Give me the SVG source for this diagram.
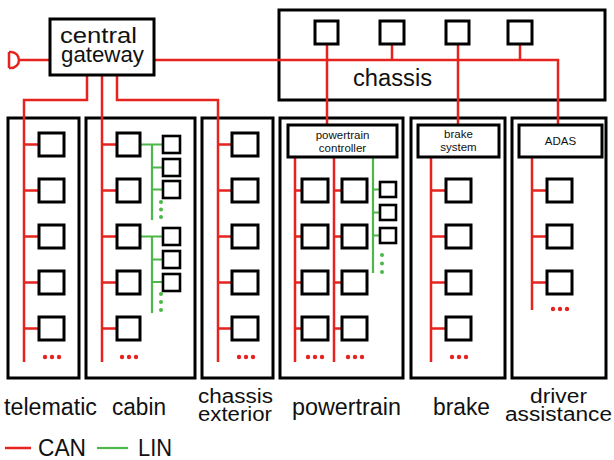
<svg xmlns="http://www.w3.org/2000/svg" width="614" height="460" viewBox="0 0 614 460">
<style>
.box{fill:#fff;stroke:#000;stroke-width:3}
.ecu{fill:#fff;stroke:#000;stroke-width:3}
.lecu{fill:#fff;stroke:#000;stroke-width:2.6}
.can{fill:none;stroke:#e5231f;stroke-width:2.5}
.lin{fill:none;stroke:#4cb849;stroke-width:2.2}
.rd{fill:#e5231f}
.gd{fill:#4cb849}
text{font-family:"Liberation Sans",Arial,Helvetica,sans-serif;fill:#111}
.big{font-size:23px}
.two{font-size:20px}
.sm{font-size:11.5px;text-anchor:middle}
</style>
<rect width="614" height="460" fill="#fff"/>

<!-- domain boxes -->
<g id="chassis">
  <rect class="box" x="279" y="10" width="326" height="90"/>
  <text class="big" x="353" y="86" textLength="79" lengthAdjust="spacingAndGlyphs">chassis</text>
</g>
<g id="telematic">
  <rect class="box" x="8" y="118" width="71" height="260"/>
</g>
<g id="cabin">
  <rect class="box" x="86" y="118" width="109" height="260"/>
</g>
<g id="chassis-exterior">
  <rect class="box" x="202" y="118" width="71" height="260"/>
</g>
<g id="powertrain">
  <rect class="box" x="280" y="118" width="123" height="260"/>
</g>
<g id="brake">
  <rect class="box" x="411" y="118" width="94" height="260"/>
</g>
<g id="driver-assistance">
  <rect class="box" x="512" y="118" width="94" height="260"/>
</g>

<!-- connectors -->
<g id="connectors">
  <path class="can" d="M9,52 V68 M9,52 H11 A8,8 0 0 1 11,68 H9 M19,60 H50"/>
  <path class="can" d="M154,60 H558 V125 M327,44 V125 M392,44 V60 M458,44 V125 M520,44 V60"/>
  <path class="can" d="M87,75 V100 H24 V362 M102,75 V362 M117,75 V100 H218 V362"/>
  <path class="can" d="M24,144.5 H39 M24,190.5 H39 M24,236.5 H39 M24,282.5 H39 M24,328.5 H39"/>
  <path class="can" d="M102,144.5 H117 M102,190.5 H117 M102,236.5 H117 M102,282.5 H117 M102,328.5 H117"/>
  <path class="can" d="M218,144.5 H232 M218,190.5 H232 M218,236.5 H232 M218,282.5 H232 M218,328.5 H232"/>
  <path class="can" d="M295,157 V362 M334,157 V362 M295,190.5 H302 M295,236.5 H302 M295,282.5 H302 M295,328.5 H302 M334,190.5 H342 M334,236.5 H342 M334,282.5 H342 M334,328.5 H342"/>
  <path class="can" d="M431,157 V362 M431,190.5 H446 M431,236.5 H446 M431,282.5 H446 M431,328.5 H446"/>
  <path class="can" d="M532,157 V310 M532,190.5 H547 M532,236.5 H547 M532,282.5 H547"/>
  <path class="lin" d="M140,144.5 H163 M152,144.5 V220 M152,167.5 H163 M152,189.5 H163"/>
  <path class="lin" d="M140,236.5 H163 M152,236.5 V313 M152,259.5 H163 M152,282 H163"/>
  <path class="lin" d="M373,157 V273 M373,189.5 H380 M373,212.5 H380 M373,235.5 H380"/>
</g>

<g id="central-gateway">
  <rect class="box" x="50" y="19" width="104" height="56" stroke-width="3.5"/>
  <text class="big" x="60" y="43" textLength="77" lengthAdjust="spacingAndGlyphs" style="font-size:22px">central</text>
  <text class="big" x="61" y="62" textLength="83" lengthAdjust="spacingAndGlyphs" style="font-size:22px">gateway</text>
</g>

<g id="chassis-ecus">
  <rect class="ecu" x="315" y="21" width="23" height="23"/>
  <rect class="ecu" x="380" y="21" width="24" height="23"/>
  <rect class="ecu" x="446" y="21" width="23" height="23"/>
  <rect class="ecu" x="508" y="21" width="24" height="23"/>
</g>

<g id="telematic-ecus">
  <rect class="ecu" x="39" y="133" width="25" height="23"/>
  <rect class="ecu" x="39" y="179" width="25" height="23"/>
  <rect class="ecu" x="39" y="225" width="25" height="23"/>
  <rect class="ecu" x="39" y="271" width="25" height="23"/>
  <rect class="ecu" x="39" y="317" width="25" height="23"/>
  <circle class="rd" cx="45" cy="357" r="2.2"/><circle class="rd" cx="52" cy="357" r="2.2"/><circle class="rd" cx="59" cy="357" r="2.2"/>
</g>

<g id="cabin-ecus">
  <rect class="ecu" x="117" y="133" width="23" height="23"/>
  <rect class="ecu" x="117" y="179" width="23" height="23"/>
  <rect class="ecu" x="117" y="225" width="23" height="23"/>
  <rect class="ecu" x="117" y="271" width="23" height="23"/>
  <rect class="ecu" x="117" y="317" width="23" height="23"/>
  <circle class="rd" cx="122" cy="357" r="2.2"/><circle class="rd" cx="129" cy="357" r="2.2"/><circle class="rd" cx="136" cy="357" r="2.2"/>
  <rect class="lecu" x="163" y="136" width="17" height="17"/>
  <rect class="lecu" x="163" y="159" width="17" height="17"/>
  <rect class="lecu" x="163" y="181" width="17" height="17"/>
  <circle class="gd" cx="161" cy="202" r="2"/><circle class="gd" cx="161" cy="209.5" r="2"/><circle class="gd" cx="161" cy="217" r="2"/>
  <rect class="lecu" x="163" y="228" width="17" height="17"/>
  <rect class="lecu" x="163" y="251" width="17" height="17"/>
  <rect class="lecu" x="163" y="274" width="17" height="17"/>
  <circle class="gd" cx="161" cy="294" r="2"/><circle class="gd" cx="161" cy="302" r="2"/><circle class="gd" cx="161" cy="310" r="2"/>
</g>

<g id="chassis-exterior-ecus">
  <rect class="ecu" x="232" y="133" width="26" height="23"/>
  <rect class="ecu" x="232" y="179" width="26" height="23"/>
  <rect class="ecu" x="232" y="225" width="26" height="23"/>
  <rect class="ecu" x="232" y="271" width="26" height="23"/>
  <rect class="ecu" x="232" y="317" width="26" height="23"/>
  <circle class="rd" cx="239" cy="357" r="2.2"/><circle class="rd" cx="246" cy="357" r="2.2"/><circle class="rd" cx="253" cy="357" r="2.2"/>
</g>

<g id="powertrain-controller">
  <rect class="box" x="288" y="125" width="109" height="32"/>
  <text class="sm" x="342.5" y="138.5">powertrain</text>
  <text class="sm" x="342.5" y="152">controller</text>
</g>
<g id="powertrain-ecus">
  <rect class="ecu" x="302" y="179" width="26" height="23"/>
  <rect class="ecu" x="302" y="225" width="26" height="23"/>
  <rect class="ecu" x="302" y="271" width="26" height="23"/>
  <rect class="ecu" x="302" y="317" width="26" height="23"/>
  <rect class="ecu" x="342" y="179" width="25" height="23"/>
  <rect class="ecu" x="342" y="225" width="25" height="23"/>
  <rect class="ecu" x="342" y="271" width="25" height="23"/>
  <rect class="ecu" x="342" y="317" width="25" height="23"/>
  <circle class="rd" cx="308" cy="357" r="2.2"/><circle class="rd" cx="315" cy="357" r="2.2"/><circle class="rd" cx="322" cy="357" r="2.2"/>
  <circle class="rd" cx="348" cy="357" r="2.2"/><circle class="rd" cx="355" cy="357" r="2.2"/><circle class="rd" cx="362" cy="357" r="2.2"/>
  <rect class="lecu" x="380" y="182" width="16" height="15"/>
  <rect class="lecu" x="380" y="205" width="16" height="15"/>
  <rect class="lecu" x="380" y="228" width="16" height="15"/>
  <circle class="gd" cx="382" cy="255" r="2"/><circle class="gd" cx="382" cy="263.5" r="2"/><circle class="gd" cx="382" cy="272" r="2"/>
</g>

<g id="brake-system">
  <rect class="box" x="418" y="125" width="81" height="32"/>
  <text class="sm" x="458.5" y="137.5">brake</text>
  <text class="sm" x="458.5" y="151">system</text>
</g>
<g id="brake-ecus">
  <rect class="ecu" x="446" y="179" width="25" height="23"/>
  <rect class="ecu" x="446" y="225" width="25" height="23"/>
  <rect class="ecu" x="446" y="271" width="25" height="23"/>
  <rect class="ecu" x="446" y="317" width="25" height="23"/>
  <circle class="rd" cx="452" cy="357" r="2.2"/><circle class="rd" cx="459" cy="357" r="2.2"/><circle class="rd" cx="466" cy="357" r="2.2"/>
</g>

<g id="adas">
  <rect class="box" x="519" y="125" width="83" height="32"/>
  <text class="sm" x="560.5" y="145">ADAS</text>
</g>
<g id="adas-ecus">
  <rect class="ecu" x="547" y="179" width="25" height="23"/>
  <rect class="ecu" x="547" y="225" width="25" height="23"/>
  <rect class="ecu" x="547" y="271" width="25" height="23"/>
  <circle class="rd" cx="553" cy="309" r="2.2"/><circle class="rd" cx="560" cy="309" r="2.2"/><circle class="rd" cx="567" cy="309" r="2.2"/>
</g>

<g id="labels">
  <text class="big" x="4" y="415" textLength="93" lengthAdjust="spacingAndGlyphs">telematic</text>
  <text class="big" x="112" y="415" textLength="54" lengthAdjust="spacingAndGlyphs">cabin</text>
  <text class="two" x="198" y="403" textLength="75" lengthAdjust="spacingAndGlyphs">chassis</text>
  <text class="two" x="198" y="421" textLength="74" lengthAdjust="spacingAndGlyphs">exterior</text>
  <text class="big" x="292" y="415" textLength="109" lengthAdjust="spacingAndGlyphs">powertrain</text>
  <text class="big" x="433" y="415" textLength="57" lengthAdjust="spacingAndGlyphs">brake</text>
  <text class="two" x="530" y="403" textLength="57" lengthAdjust="spacingAndGlyphs">driver</text>
  <text class="two" x="505" y="421" textLength="107" lengthAdjust="spacingAndGlyphs">assistance</text>
</g>

<g id="legend">
  <path class="can" d="M5,448 H31" stroke-width="3"/>
  <text class="big" x="38" y="456" textLength="48" lengthAdjust="spacingAndGlyphs">CAN</text>
  <path class="lin" d="M97,448 H128" stroke-width="3"/>
  <text class="big" x="138" y="456" textLength="34" lengthAdjust="spacingAndGlyphs">LIN</text>
</g>
</svg>
